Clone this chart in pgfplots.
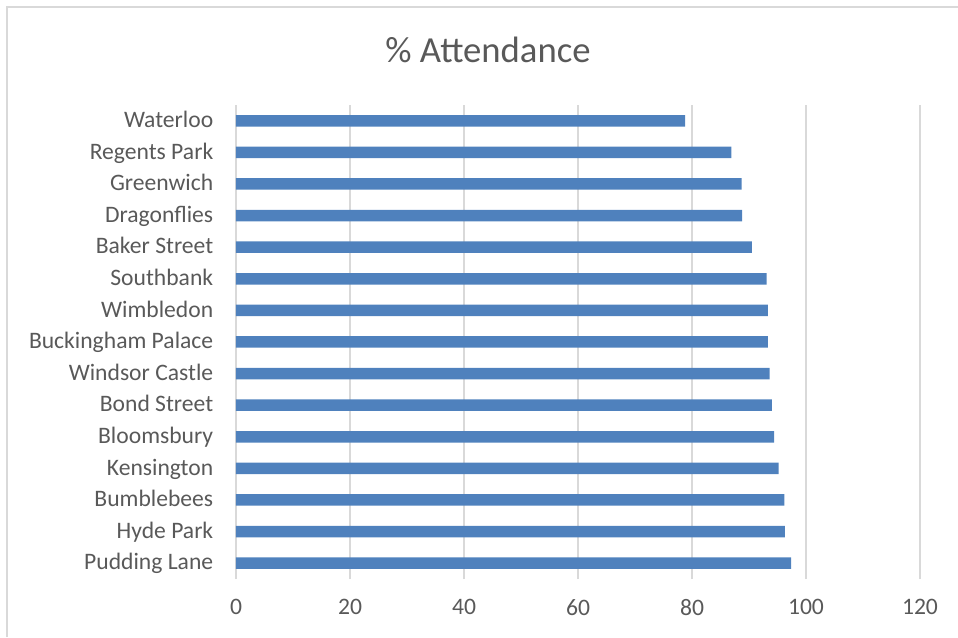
\documentclass[border=0pt]{standalone}
\usepackage{pgfplots}
\pgfplotsset{compat=1.18}
\usepackage{fontspec}
\setmainfont{Carlito}
\definecolor{barblue}{HTML}{4F81BD}
\definecolor{txtgray}{HTML}{595959}
\definecolor{gridgray}{HTML}{D9D9D9}
\begin{document}
\begin{tikzpicture}
\path[use as bounding box] (0pt,0pt) rectangle (958pt,637pt);
\draw[gridgray, line width=1.5pt] (7pt,0pt) -- (7pt,630pt) -- (958pt,630pt);
\node[txtgray, font=\fontsize{36.7}{44}\selectfont] at (488pt,587pt) {\% Attendance};
\begin{axis}[
    at={(236pt,58pt)}, anchor=south west,
    scale only axis,
    width=684pt,
    height=474pt,
    xbar,
    bar width=11.5pt,
    xmin=0, xmax=120,
    ymin=-0.5, ymax=14.5,
    xtick={0,20,40,60,80,100,120},
    ytick={0,...,14},
    yticklabels={Pudding Lane,Hyde Park,Bumblebees,Kensington,Bloomsbury,Bond Street,Windsor Castle,Buckingham Palace,Wimbledon,Southbank,Baker Street,Dragonflies,Greenwich,Regents Park,Waterloo},
    axis line style={draw=none},
    tick style={draw=none},
    xmajorgrids=true,
    major grid style={gridgray, line width=1.5pt},
    ticklabel style={txtgray, font=\fontsize{23.6}{28}\selectfont},
    /pgf/number format/assume math mode=true,
    xticklabel style={yshift=-17pt},
    yticklabel style={xshift=-15pt, yshift=-4pt, text height=1.6ex, text depth=0.5ex},
    clip=false,
]
\addplot[fill=barblue, draw=none] coordinates {
    (97.4,0)
    (96.3,1)
    (96.2,2)
    (95.2,3)
    (94.4,4)
    (94.0,5)
    (93.6,6)
    (93.3,7)
    (93.3,8)
    (93.1,9)
    (90.5,10)
    (88.8,11)
    (88.7,12)
    (86.9,13)
    (78.8,14)
};
\end{axis}
\end{tikzpicture}
\end{document}
